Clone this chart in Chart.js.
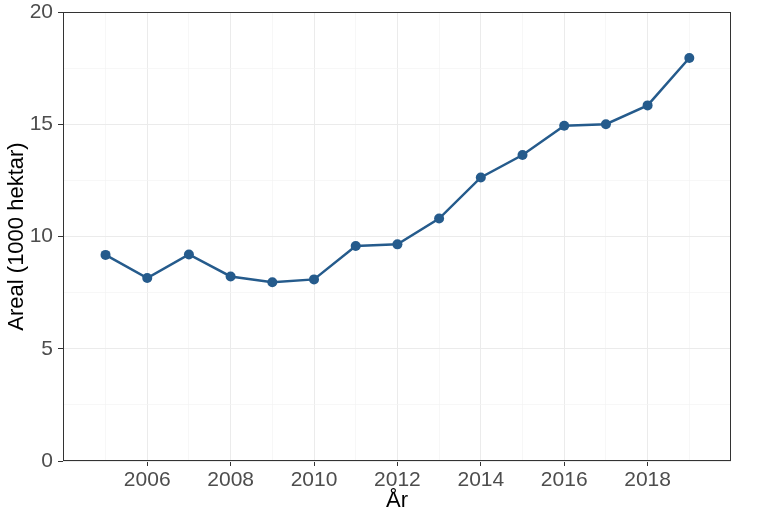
<!DOCTYPE html>
<html><head><meta charset="utf-8">
<script src="https://cdn.jsdelivr.net/npm/chart.js@4/dist/chart.umd.min.js"></script>
<style>html,body{margin:0;padding:0;background:#fff;}#wrap{width:768px;height:523px;}</style>
</head><body><div id="wrap"><canvas id="c" width="768" height="523"></canvas></div>
<script>
const years = [2005,2006,2007,2008,2009,2010,2011,2012,2013,2014,2015,2016,2017,2018,2019];
const areal = [9.18,8.15,9.2,8.22,7.96,8.09,9.58,9.65,10.8,12.63,13.63,14.93,15.0,15.84,17.95];
const xTickLabels = [2006,2008,2010,2012,2014,2016,2018];
const yTickLabels = [0,5,10,15,20];

const pts = years.map((y,i)=>({x:y,y:areal[i]}));
const border = {id:'border',afterDatasetsDraw(ch){const a=ch.chartArea,c=ch.ctx;c.save();c.strokeStyle='#333333';c.lineWidth=1;c.strokeRect(a.left+0.5,a.top+0.5,a.right-a.left-1,a.bottom-a.top-1);c.restore();}};
const fam = '"Liberation Sans", Arial, sans-serif';
const font = {family:fam, size:21, lineHeight:1.2};
new Chart(document.getElementById('c'),{
  type:'line',
  data:{datasets:[{data:pts,borderColor:'#255b8c',backgroundColor:'#255b8c',borderWidth:2.5,pointRadius:5,pointHoverRadius:5,pointBorderWidth:0,tension:0}]},
  options:{
    responsive:false,animation:false,
    layout:{padding:{left:0,top:12,right:37,bottom:0}},
    plugins:{legend:{display:false},tooltip:{enabled:false}},
    scales:{
      x:{type:'linear',min:2003.98,max:2020.0,
        afterBuildTicks(s){const t=[];for(let y=2005;y<=2019;y++)t.push({value:y});s.ticks=t;},
        afterFit(s){s.height=62;s.paddingLeft=0;s.paddingRight=0;},
        ticks:{autoSkip:false,maxRotation:0,padding:2,color:'#4d4d4d',font:font,
          callback:(v)=>xTickLabels.includes(v)?String(v):''},
        grid:{color:(ctx)=>ctx.tick&&ctx.tick.value%2===0?'#ebebeb':'#f3f3f3',
          lineWidth:(ctx)=>ctx.tick&&ctx.tick.value%2===0?1:0.7,
          tickLength:5,tickColor:(ctx)=>ctx.tick&&ctx.tick.value%2===0?'#333333':'rgba(0,0,0,0)'},
        border:{display:false},
        title:{display:true,text:'År',color:'#000',font:{family:fam,size:22},padding:{top:0,bottom:9}}
      },
      y:{type:'linear',min:0,max:20,
        afterBuildTicks(s){const t=[];for(let v=0;v<=20;v+=2.5)t.push({value:v});s.ticks=t;},
        afterFit(s){s.width=63;s.paddingTop=0;s.paddingBottom=0;},
        ticks:{autoSkip:false,padding:5,color:'#4d4d4d',font:font,
          callback:(v)=>yTickLabels.includes(v)?String(v):''},
        grid:{color:(ctx)=>ctx.tick&&ctx.tick.value%5===0?'#ebebeb':'#f3f3f3',
          lineWidth:(ctx)=>ctx.tick&&ctx.tick.value%5===0?1:0.7,
          tickLength:5,tickColor:(ctx)=>ctx.tick&&ctx.tick.value%5===0?'#333333':'rgba(0,0,0,0)'},
        border:{display:false},
        title:{display:true,text:'Areal (1000 hektar)',color:'#000',font:{family:fam,size:22},padding:{top:4,bottom:0}}
      }
    }
  },
  plugins:[border]
});
</script></body></html>
